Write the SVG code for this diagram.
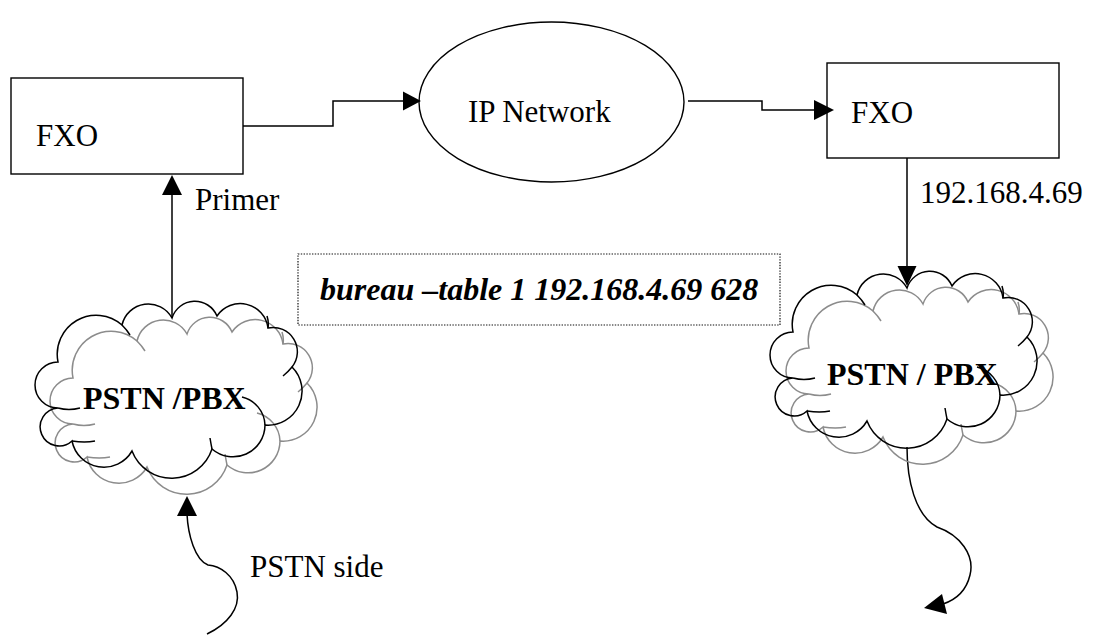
<svg xmlns="http://www.w3.org/2000/svg" xmlns:xlink="http://www.w3.org/1999/xlink" width="1094" height="635" viewBox="0 0 1094 635">
  <style>
    .box { fill: none; stroke: #000; stroke-width: 1.4; }
    .wire { fill: none; stroke: #000; stroke-width: 1.5; }
    .head { fill: #000; stroke: none; }
    .lbl { font-family: "Liberation Serif", "Times New Roman", serif; font-size: 31px; fill: #000; }
    .bold { font-weight: bold; font-size: 32px; }
    .note { font-weight: bold; font-style: italic; font-size: 32px; }
    .dotted { fill: none; stroke: #111; stroke-width: 1.2; stroke-dasharray: 1.4 1.4; }
    .cloud-front { fill: none; stroke: #000; stroke-width: 1.5; }
    .cloud-back { fill: none; stroke: #8c8c8c; stroke-width: 1.5; }
  </style>
  <defs>
    <!-- cloud outline with inner cusp tails, local box about 265 x 176 -->
    <g id="cloudShape">
      <path d="M 23 60 A 39 39 0 0 1 87 23 A 27 27 0 0 1 137 16 A 24 24 0 0 1 182 14 A 28 28 0 0 1 233 26 A 24.3 24.3 0 0 1 257 65 A 34 34 0 0 1 230 123 A 32 32 0 0 1 177 147 A 42.5 42.5 0 0 1 97 149 A 32.5 32.5 0 0 1 37 139 A 19 19 0 1 1 23 106 A 23 23 0 0 1 23 60 Z"/>
      <path d="M 23 106 Q 34 109 45 106 M 37 139 Q 50 141 60 139 M 177 147 Q 176 142 175 136 M 207 95 A 30 30 0 0 1 230 123 M 257 65 Q 253 70 248 74 M 87 23 Q 92 28 95 33 M 233 26 Q 234 20 232 14"/>
    </g>
  </defs>

  <!-- connectors -->
  <g id="connectors">
    <polyline class="wire" points="243,126 333,126 333,101 404,101"/>
    <polygon class="head" points="403,91.5 403,110.5 421,101"/>

    <polyline class="wire" points="688,101 762,101 762,110 815,110"/>
    <polygon class="head" points="814,100 814,120 834,110"/>

    <line class="wire" x1="907" y1="158" x2="907" y2="268"/>
    <polygon class="head" points="897.5,266 916.5,266 907,286"/>

    <line class="wire" x1="172" y1="318" x2="172" y2="194"/>
    <polygon class="head" points="162,195 182,195 172,175"/>

    <path class="wire" d="M 207 634 C 228 624, 240 608, 237 592 C 234 575, 220 566, 208 565 C 195 560, 188 535, 187 514"/>
    <polygon class="head" points="177,516 197,516 187,496"/>

    <path class="wire" d="M 907 447 C 907 480, 915 515, 937 527 C 960 535, 975 555, 970 575 C 966 592, 955 600, 943 604"/>
    <polygon class="head" points="924,608 942,594 947,614"/>
  </g>

  <!-- left gateway -->
  <g id="fxo-left">
    <rect class="box" x="11" y="78" width="232" height="96"/>
    <text class="lbl" x="36" y="146">FXO</text>
  </g>

  <!-- IP cloud -->
  <g id="ip-network">
    <ellipse class="box" cx="551.5" cy="102" rx="132.5" ry="80"/>
    <text class="lbl" x="468" y="122">IP Network</text>
  </g>

  <!-- right gateway -->
  <g id="fxo-right">
    <rect class="box" x="827" y="63" width="232" height="95"/>
    <text class="lbl" x="851" y="123">FXO</text>
  </g>

  <!-- labels on connectors -->
  <g id="labels">
    <text class="lbl" x="195" y="210">Primer</text>
    <text class="lbl" x="920" y="203">192.168.4.69</text>
    <text class="lbl" x="250" y="577">PSTN side</text>
  </g>

  <!-- dial-peer note -->
  <g id="note">
    <rect class="dotted" x="298" y="254" width="482" height="71"/>
    <text class="lbl note" x="320" y="300">bureau –table 1 192.168.4.69 628</text>
  </g>

  <!-- left PSTN cloud -->
  <g id="pstn-left">
    <use href="#cloudShape" xlink:href="#cloudShape" class="cloud-back" transform="translate(50,318)"/>
    <use href="#cloudShape" xlink:href="#cloudShape" class="cloud-front" transform="translate(35,302)"/>
    <text class="lbl bold" x="83" y="409">PSTN /PBX</text>
  </g>

  <!-- right PSTN cloud -->
  <g id="pstn-right">
    <use href="#cloudShape" xlink:href="#cloudShape" class="cloud-back" transform="translate(786,288)"/>
    <use href="#cloudShape" xlink:href="#cloudShape" class="cloud-front" transform="translate(770,272)"/>
    <text class="lbl bold" x="827" y="385">PSTN / PBX</text>
  </g>
</svg>
